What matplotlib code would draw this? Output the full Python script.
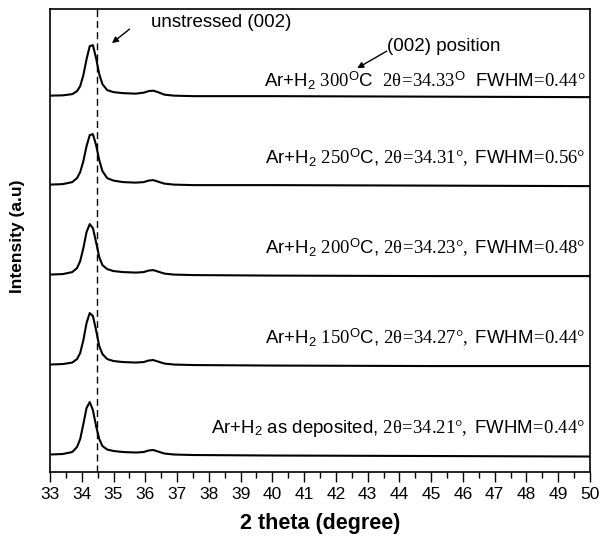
import numpy as np
import matplotlib
matplotlib.use('Agg')
import matplotlib.pyplot as plt
from matplotlib.ticker import MultipleLocator

plt.rcParams['font.family'] = ['Liberation Sans', 'DejaVu Sans']
plt.rcParams['mathtext.fontset'] = 'custom'
plt.rcParams['mathtext.rm'] = 'Liberation Serif'
plt.rcParams['mathtext.sf'] = 'Liberation Sans'
plt.rcParams['mathtext.it'] = 'Liberation Serif:italic'

# 2 theta grid (degree) and intensities (a.u., above each baseline)
two_theta = [33.0, 33.4, 33.7, 33.85, 33.95, 34.05, 34.15, 34.25, 34.35, 34.45, 34.55, 34.65, 34.8,
             35.0, 35.3, 35.7, 35.95, 36.1, 36.25, 36.4, 36.6, 36.9, 37.5, 40.0, 45.0, 50.0]
i_asdep = [0.5, 1, 3, 8, 16, 31, 47, 53, 45, 29, 16, 9, 5.5, 4, 3, 2.5, 3, 4.5, 5, 3.5, 1.5, 0.5, 0, -0.5, -1, -1.5]
i_150 = [0.5, 1, 2.5, 6, 12, 25, 42, 52, 49, 35, 19, 11, 6, 4, 3, 2.5, 3, 4.5, 5, 3.5, 1.5, 0.5, 0, -0.5, -1, -1]
i_200 = [0.5, 1, 3, 7, 14, 27, 43, 51, 47, 33, 18, 10, 6, 4, 3, 2.5, 3, 4.5, 5, 3.5, 1.5, 0.5, 0, -0.5, -1, -1]
i_250 = [0.5, 1, 3, 7, 13, 24, 39, 50, 51, 40, 25, 14, 7, 4.5, 3, 2.5, 3, 4.5, 5, 3.5, 1.5, 0.5, 0, 0, -0.5, -1]
i_300 = [0.5, 0.8, 2, 5, 10, 21, 37, 50, 51, 38, 22, 12, 6, 4, 3, 2.5, 3.5, 5, 5.5, 4, 1.5, 0.5, 0, 0, -0.5, -1]

labels = [
    r"Ar+H$_\mathsf{2}$ as deposited, $\mathrm{2θ\!=\!34.21°,}$ FWHM$\mathrm{\!=\!0.44°}$",
    r"Ar+H$_\mathsf{2}$ $\mathrm{150}^\mathsf{O}$C, $\mathrm{2θ\!=\!34.27°,}$ FWHM$\mathrm{\!=\!0.44°}$",
    r"Ar+H$_\mathsf{2}$ $\mathrm{200}^\mathsf{O}$C, $\mathrm{2θ\!=\!34.23°,}$ FWHM$\mathrm{\!=\!0.48°}$",
    r"Ar+H$_\mathsf{2}$ $\mathrm{250}^\mathsf{O}$C, $\mathrm{2θ\!=\!34.31°,}$ FWHM$\mathrm{\!=\!0.56°}$",
    r"Ar+H$_\mathsf{2}$ $\mathrm{300}^\mathsf{O}$C  $\mathrm{2θ\!=\!34.33}^\mathsf{O}$  FWHM$\mathrm{\!=\!0.44°}$",
]
unstressed = 34.48

curves = [i_asdep, i_150, i_200, i_250, i_300]
offsets = [17, 107, 197, 287, 376]
label_gap = [27, 27, 27, 27, 15]

fig = plt.figure(figsize=(6.07, 5.40), dpi=100)
ax = fig.add_axes([0.0824, 0.1259, 0.8896, 0.8571])

for c, off, lab, g in zip(curves, offsets, labels, label_gap):
    ax.plot(two_theta, np.array(c) + off, color='k', lw=1.5)
    ax.text(49.85, off + g, lab, ha='right', va='center', fontsize=13.4)

ax.axvline(unstressed, color='k', lw=1, ls=(0, (5, 3)))

ax.text(38.4, 450, 'unstressed (002)', ha='center', va='center', fontsize=13.5)
ax.annotate('', xy=(34.95, 429), xytext=(35.5, 443),
            arrowprops=dict(arrowstyle='-|>', color='k', lw=1, shrinkA=0, shrinkB=0,
                            mutation_scale=9))
ax.text(45.4, 426, '(002) position', ha='center', va='center', fontsize=13.5)
ax.annotate('', xy=(42.67, 404), xytext=(43.6, 421),
            arrowprops=dict(arrowstyle='-|>', color='k', lw=1, shrinkA=0, shrinkB=0,
                            mutation_scale=9))

ax.set_xlim(33, 50)
ax.set_ylim(0, 463)
ax.xaxis.set_major_locator(MultipleLocator(1))
ax.xaxis.set_minor_locator(MultipleLocator(0.5))
ax.tick_params(axis='x', which='major', direction='out', length=7, width=1, labelsize=12.5)
ax.tick_params(axis='x', which='minor', direction='out', length=4, width=1)
ax.set_yticks([])
for s in ax.spines.values():
    s.set_linewidth(1.2)

ax.set_xlabel('2 theta (degree)', fontsize=15.5, fontweight='bold', labelpad=8)
ax.set_ylabel('Intensity (a.u)', fontsize=12.5, fontweight='bold')
ax.yaxis.set_label_coords(-0.046, 0.51)

plt.savefig('out.png', dpi=100)
